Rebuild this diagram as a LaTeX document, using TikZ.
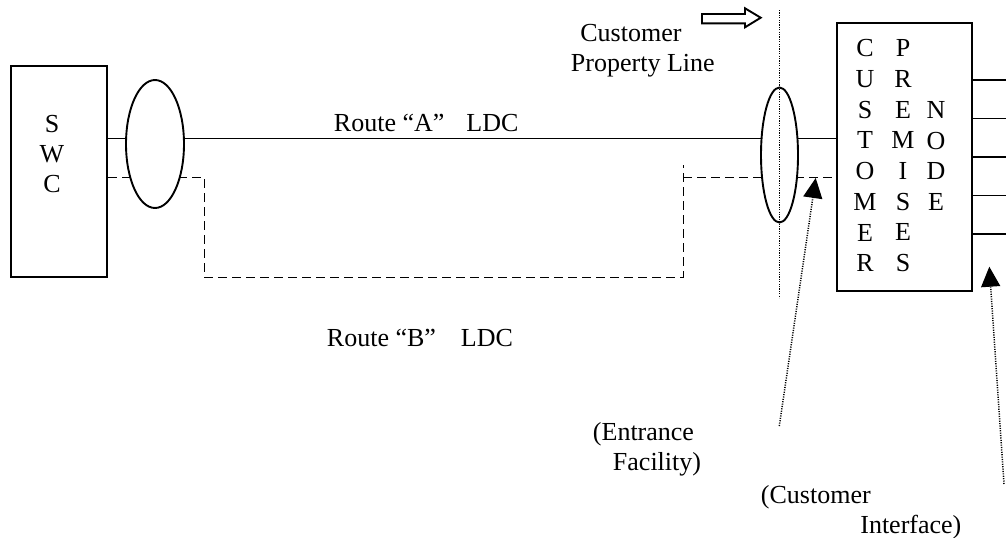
\documentclass[tikz,border=0pt]{standalone}
\usepackage{fontspec}
\setmainfont{Liberation Serif}
\usetikzlibrary{arrows.meta,shapes.geometric,backgrounds}

\begin{document}
\begin{tikzpicture}[x=0.5pt,y=-0.5pt,line width=0.95pt,
 font=\fontsize{13}{15.25}\selectfont,
 box/.style={draw,line width=1.1pt,inner sep=0pt},
 lens/.style={draw,ellipse,fill=white,inner sep=0pt},
 col/.style={inner sep=0pt,align=center},
 lbl/.style={inner sep=0pt,align=left,anchor=north west},
 route/.style={dash pattern=on 4.5pt off 2.5pt},
 prop/.style={dash pattern=on 0.55pt off 0.65pt,line width=0.75pt},
 ptr/.style={prop,-{Triangle[length=10pt,width=9.5pt]}}]
\useasboundingbox (0,0) rectangle (1006,537);
\node[box,minimum width=48pt,minimum height=105.5pt] (swc) at (59,171.5) {};
\node[col,font=\fontsize{13}{15}\selectfont] (swcLbl) at (52,154) {S\\W\\C};
\node[box,minimum width=67.5pt,minimum height=134pt] (cpn) at (904.5,157) {};
\node[col,font=\fontsize{13}{15.35}\selectfont] (custCol) at (865,155.7) {C\\U\\S\\T\\O\\M\\E\\R};
\node[col,font=\fontsize{13}{15.35}\selectfont] (premCol) at (903,155.7) {P\\R\\E\\M\\I\\S\\E\\S};
\node[col,font=\fontsize{13}{15.35}\selectfont] (nodeCol) at (936,155.9) {N\\O\\D\\E};
\node[lens,minimum width=29pt,minimum height=64pt] (lensA) at (155,144) {};
\node[lens,minimum width=18.5pt,minimum height=67.5pt] (lensB) at (779.5,155) {};
\begin{scope}[on background layer]
\coordinate (ra) at (0,138);
\coordinate (rb) at (0,177);
\draw (swc.east |- ra) -- (cpn.west |- ra);
\draw[route] (swc.east |- rb) -| (204,277) -| (683,165);
\draw[route] (683,177) -- (cpn.west |- rb);
\end{scope}
\draw[prop] (lensB.center |- 0,10) -- (lensB.center |- 0,298);
\foreach \y in {80,118.5,157,195.5,234}
  \draw (cpn.east |- 0,\y) -- ++(34.5,0);
\draw (702,14) -- (745,14) -- (745,8.3) -- (760.7,17.7) -- (745,27.3) -- (745,23.3) -- (702,23.3) -- cycle;
\node[lbl] (propLbl) at (570,23) {\hspace*{4.7pt}Customer\\Property Line};
\node[inner sep=0pt,anchor=base west] (routeA) at (333,131.7) {Route “A”\hspace{11pt}LDC};
\node[inner sep=0pt,anchor=base west] (routeB) at (326,346.7) {Route “B”\hspace{12.5pt}LDC};
\node[lbl] (efLbl) at (592,421) {(Entrance\\\hspace*{10pt}Facility)};
\node[lbl] (ciLbl) at (760,484) {(Customer\\\hspace*{49.7pt}Interface)};
\coordinate (efTail) at (779.3,426);
\coordinate (efTip) at (815.7,178);
\coordinate (ciTail) at (1004,484);
\coordinate (ciTip) at (989.3,266.7);
\draw[ptr] (efTail) -- (efTip);
\draw[ptr] (ciTail) -- (ciTip);
\end{tikzpicture}
\end{document}
